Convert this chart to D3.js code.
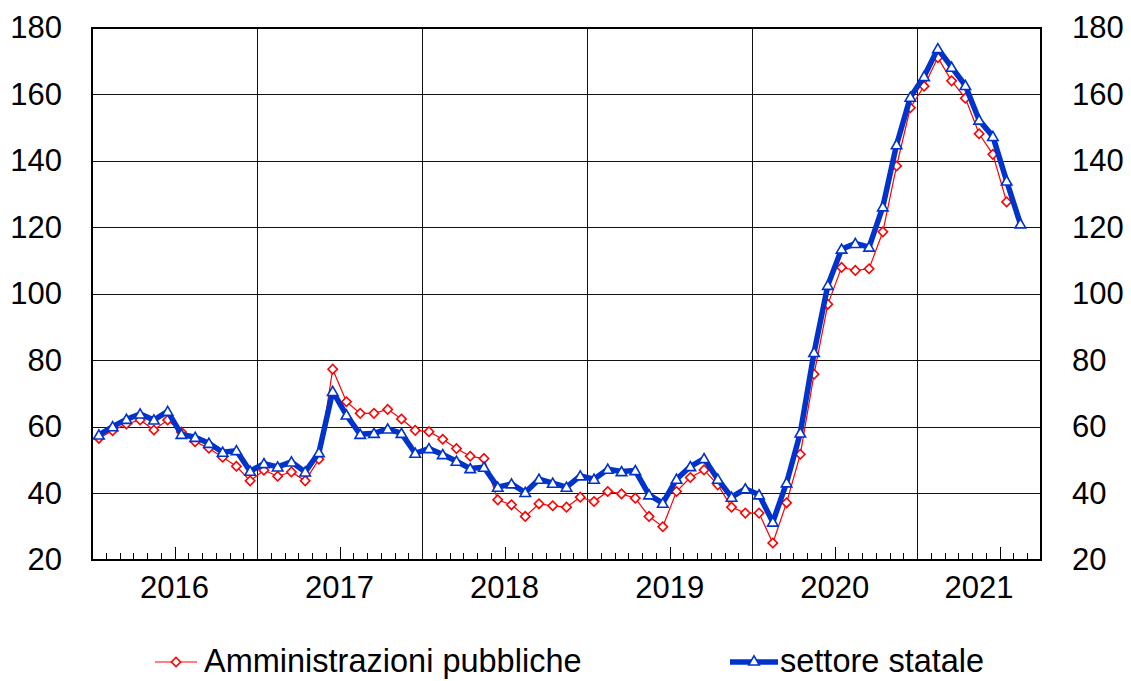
<!DOCTYPE html>
<html>
<head>
<meta charset="utf-8">
<script src="https://cdn.jsdelivr.net/npm/d3@7"></script>
<style>
  html, body { margin: 0; padding: 0; background: #fff; }
  svg text { font-family: "Liberation Sans", Arial, sans-serif; fill: #000; }
</style>
</head>
<body>
<div id="chart"></div>
<script>
// monthly series, first value = Jan 2016
const startYear = 2016;
const totalMonths = 69; // axis runs to end of Sep 2021

const amministrazioniPubbliche = [
  56.6, 58.9, 60.9, 62.1, 59.1, 62.1, 58.5, 55.6, 53.6, 50.9, 48.2, 43.8,
  47.0, 45.2, 46.5, 43.8, 50.3, 77.4, 67.6, 64.1, 64.1, 65.3, 62.4, 59.0,
  58.6, 56.3, 53.5, 51.2, 50.5, 38.1, 36.6, 33.1, 36.9, 36.3, 35.9, 38.9,
  37.6, 40.6, 39.9, 38.6, 33.1, 30.0, 40.6, 44.8, 47.1, 42.6, 35.9, 34.1,
  34.1, 25.1, 37.2, 51.8, 75.9, 96.9, 108.0, 107.1, 107.6, 118.7, 138.5, 156.0,
  162.5, 171.1, 164.1, 158.9, 148.2, 142.0, 127.7
];

const settoreStatale = [
  57.6, 60.1, 62.3, 63.9, 62.1, 64.7, 57.8, 56.9, 55.1, 52.4, 52.9, 46.7,
  49.0, 48.0, 49.5, 46.5, 52.3, 70.7, 63.6, 57.8, 58.1, 59.4, 58.1, 52.1,
  53.5, 51.7, 49.7, 47.5, 47.9, 41.9, 42.9, 40.3, 44.3, 43.1, 41.9, 45.3,
  44.3, 47.3, 46.6, 46.9, 39.6, 37.1, 44.3, 48.1, 50.5, 44.3, 38.9, 41.4,
  39.6, 31.4, 43.2, 58.2, 82.4, 102.6, 113.5, 115.2, 114.1, 126.2, 144.9, 159.2,
  165.4, 173.8, 168.2, 162.7, 152.3, 147.4, 134.0, 121.1
];

const yearLabels = ['2016', '2017', '2018', '2019', '2020', '2021'];
const yTicks = [20, 40, 60, 80, 100, 120, 140, 160, 180];

const seriesNames = ['Amministrazioni pubbliche', 'settore statale'];
const red = '#ff0000';
const blue = '#0033cc';

const width = 1131, height = 681;
const margin = { top: 28, right: 90, bottom: 121, left: 92 };
const innerW = width - margin.left - margin.right;
const innerH = height - margin.top - margin.bottom;

const svg = d3.select('#chart')
  .append('svg')
  .attr('width', width)
  .attr('height', height);

const g = svg.append('g')
  .attr('transform', `translate(${margin.left},${margin.top})`);

// x: month index, points sit in the middle of each month
const x = d3.scaleLinear().domain([0, totalMonths]).range([0, innerW]);
const y = d3.scaleLinear().domain([20, 180]).range([innerH, 0]);

// horizontal grid
g.append('g')
  .attr('shape-rendering', 'crispEdges')
  .selectAll('line')
  .data(yTicks.slice(1, -1))
  .join('line')
  .attr('x1', 0).attr('x2', innerW)
  .attr('y1', d => y(d)).attr('y2', d => y(d))
  .attr('stroke', '#111').attr('stroke-width', 1);

// vertical grid at year boundaries
g.append('g')
  .attr('shape-rendering', 'crispEdges')
  .selectAll('line')
  .data(d3.range(12, totalMonths, 12))
  .join('line')
  .attr('x1', d => x(d)).attr('x2', d => x(d))
  .attr('y1', 0).attr('y2', innerH)
  .attr('stroke', '#111').attr('stroke-width', 1);

// monthly ticks along the bottom (longer at mid-year)
const monthTicks = d3.range(1, totalMonths).filter(m => m % 12 !== 0);
g.append('g')
  .attr('transform', `translate(0,${innerH})`)
  .attr('shape-rendering', 'crispEdges')
  .call(d3.axisBottom(x).tickValues(monthTicks).tickFormat('')
    .tickSizeInner(0).tickSizeOuter(0))
  .call(a => a.select('.domain').remove())
  .call(a => a.selectAll('.tick line')
    .attr('y2', d => (d % 12 === 6 ? -13 : -7))
    .attr('stroke', '#000').attr('stroke-width', 1));

// year labels centred in each year
g.append('g')
  .selectAll('text')
  .data(yearLabels)
  .join('text')
  .attr('x', (d, i) => x(Math.min(i * 12 + 6, i * 12 + (totalMonths - i * 12) / 2)))
  .attr('y', innerH + 38)
  .attr('text-anchor', 'middle')
  .attr('font-size', 31)
  .text(d => d);

// left and right value axes
const yAxisL = d3.axisLeft(y).tickValues(yTicks).tickSize(0).tickPadding(30);
const yAxisR = d3.axisRight(y).tickValues(yTicks).tickSize(0).tickPadding(31);
g.append('g').call(yAxisL)
  .call(a => a.select('.domain').remove())
  .call(a => a.selectAll('text').attr('font-size', 31).attr('font-family', null));
g.append('g').attr('transform', `translate(${innerW},0)`).call(yAxisR)
  .call(a => a.select('.domain').remove())
  .call(a => a.selectAll('text').attr('font-size', 31).attr('font-family', null));

// plot border
g.append('rect')
  .attr('width', innerW).attr('height', innerH)
  .attr('fill', 'none').attr('stroke', '#000').attr('stroke-width', 2);

const line = d3.line().x((d, i) => x(i + 0.5)).y(d => y(d));
const diamond = d3.symbol(d3.symbolSquare, 44);
const triangle = d3.symbol(d3.symbolTriangle, 48);

// Amministrazioni pubbliche
g.append('path')
  .datum(amministrazioniPubbliche)
  .attr('d', line)
  .attr('fill', 'none').attr('stroke', red).attr('stroke-width', 1.2);
g.append('g')
  .selectAll('path')
  .data(amministrazioniPubbliche)
  .join('path')
  .attr('d', diamond)
  .attr('transform', (d, i) => `translate(${x(i + 0.5)},${y(d)}) rotate(45)`)
  .attr('fill', '#fff').attr('stroke', red).attr('stroke-width', 1.6);

// settore statale
g.append('path')
  .datum(settoreStatale)
  .attr('d', line)
  .attr('fill', 'none').attr('stroke', blue).attr('stroke-width', 5.5)
  .attr('stroke-linejoin', 'round');
g.append('g')
  .selectAll('path')
  .data(settoreStatale)
  .join('path')
  .attr('d', triangle)
  .attr('transform', (d, i) => `translate(${x(i + 0.5)},${y(d) + 1})`)
  .attr('fill', '#fff').attr('stroke', blue).attr('stroke-width', 1.6);

// legend
const legend = svg.append('g');
const legendItems = [
  { name: seriesNames[0], x0: 155, x1: 197, color: red, w: 1.2, sym: diamond, rot: 45, tx: 204 },
  { name: seriesNames[1], x0: 730, x1: 778, color: blue, w: 5.5, sym: triangle, rot: 0, tx: 780 }
];
const ly = 662;
legendItems.forEach(it => {
  legend.append('line')
    .attr('x1', it.x0).attr('x2', it.x1).attr('y1', ly).attr('y2', ly)
    .attr('stroke', it.color).attr('stroke-width', it.w);
  legend.append('path')
    .attr('d', it.sym)
    .attr('transform', `translate(${(it.x0 + it.x1) / 2},${ly}) rotate(${it.rot})`)
    .attr('fill', '#fff').attr('stroke', it.color).attr('stroke-width', 1.6);
  legend.append('text')
    .attr('x', it.tx).attr('y', ly + 10)
    .attr('font-size', 32.5)
    .text(it.name);
});
</script>
</body>
</html>
